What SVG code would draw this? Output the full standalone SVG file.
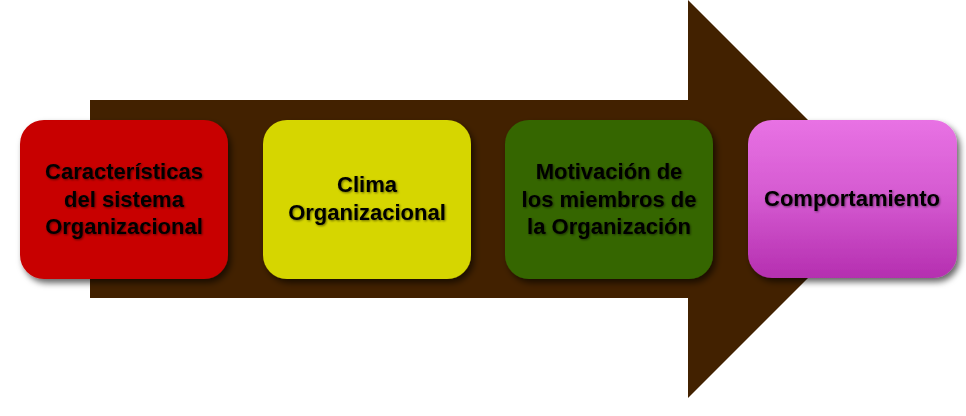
<svg xmlns="http://www.w3.org/2000/svg" width="966" height="416" viewBox="0 0 966 416">
<defs>
<linearGradient id="pinkGrad" x1="0" y1="0" x2="0" y2="1">
<stop offset="0" stop-color="#e872e4"/>
<stop offset="0.5" stop-color="#d459d0"/>
<stop offset="1" stop-color="#b52fb0"/>
</linearGradient>
<filter id="boxShadow" x="-10%" y="-10%" width="125%" height="130%">
<feDropShadow dx="3" dy="4" stdDeviation="3" flood-color="#000" flood-opacity="0.6"/>
</filter>
<filter id="textShadow" x="-5%" y="-20%" width="110%" height="140%">
<feDropShadow dx="1" dy="1" stdDeviation="0.8" flood-color="#000" flood-opacity="0.5"/>
</filter>
</defs>
<style>
.box{filter:url(#boxShadow);}
.lbl{font-family:"Liberation Sans",Arial,sans-serif;font-weight:bold;font-size:22px;fill:#000;text-anchor:middle;filter:url(#textShadow);}
</style>
<rect width="966" height="416" fill="#ffffff"/>
<g id="connectors">
<path d="M90,100 L688,100 L688,0 L887,199 L688,398 L688,298 L90,298 Z" fill="#422100"/>
</g>
<g id="node1">
<rect class="box" x="20" y="120" width="208" height="159" rx="24" fill="#c80000"/>
<text class="lbl" x="124" y="179">Características</text>
<text class="lbl" x="124" y="207">del sistema</text>
<text class="lbl" x="124" y="234">Organizacional</text>
</g>
<g id="node2">
<rect class="box" x="263" y="120" width="208" height="159" rx="24" fill="#d6d600"/>
<text class="lbl" x="367" y="192">Clima</text>
<text class="lbl" x="367" y="220">Organizacional</text>
</g>
<g id="node3">
<rect class="box" x="505" y="120" width="208" height="159" rx="24" fill="#346600"/>
<text class="lbl" x="609" y="179">Motivación de</text>
<text class="lbl" x="609" y="207">los miembros de</text>
<text class="lbl" x="609" y="234">la Organización</text>
</g>
<g id="node4">
<rect class="box" x="748" y="120" width="209" height="158" rx="24" fill="url(#pinkGrad)"/>
<text class="lbl" x="852" y="206">Comportamiento</text>
</g>
</svg>
